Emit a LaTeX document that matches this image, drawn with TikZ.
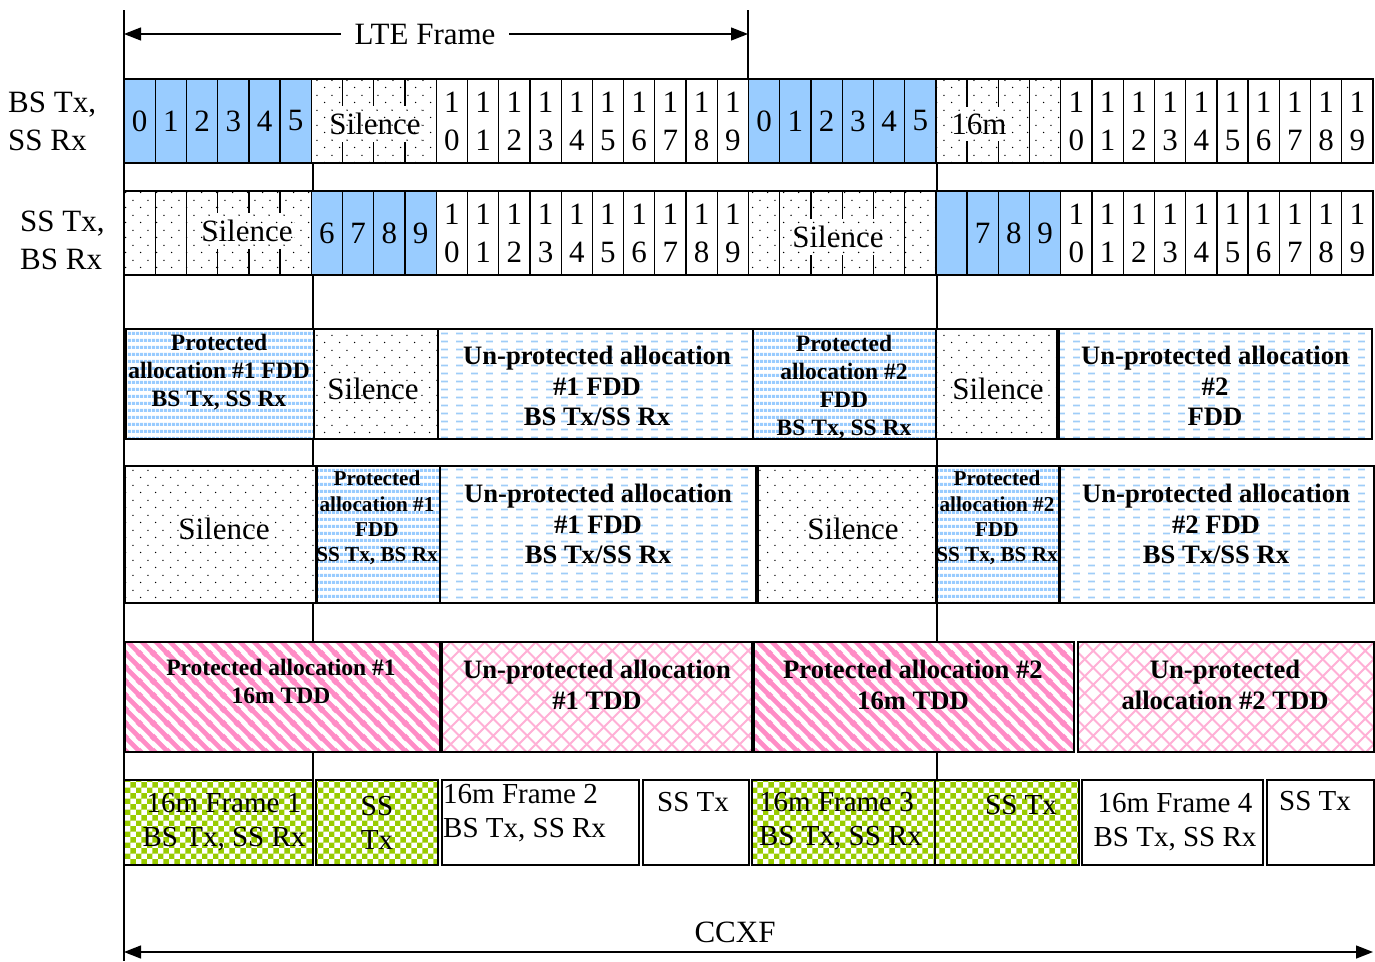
\documentclass[tikz,border=0pt]{standalone}
\usepackage{fontspec}
\setmainfont{Liberation Serif}
\usetikzlibrary{patterns,arrows.meta}

\definecolor{lblue}{HTML}{99CCFF}
\definecolor{dblue}{HTML}{9FCDF8}
\definecolor{pinkA}{HTML}{FF8CC6}
\definecolor{pinkB}{HTML}{FFB0D6}
\definecolor{greenA}{HTML}{99CC00}

\pgfdeclarepatternformonly{mydots}{\pgfqpoint{0pt}{0pt}}{\pgfqpoint{15.3pt}{15pt}}{\pgfqpoint{15.3pt}{15pt}}{%
  \pgfpathcircle{\pgfqpoint{3.8pt}{3.75pt}}{0.8pt}%
  \pgfpathcircle{\pgfqpoint{11.45pt}{11.25pt}}{0.8pt}%
  \pgfusepath{fill}}
\pgfdeclarepatternformonly{hstripes}{\pgfqpoint{0pt}{0pt}}{\pgfqpoint{4pt}{6.6pt}}{\pgfqpoint{4pt}{6.6pt}}{%
  \pgfpathrectangle{\pgfqpoint{0pt}{0pt}}{\pgfqpoint{4pt}{3.4pt}}\pgfusepath{fill}}
\pgfdeclarepatternformonly{hdashes}{\pgfqpoint{0pt}{0pt}}{\pgfqpoint{14.7pt}{8pt}}{\pgfqpoint{14.7pt}{8pt}}{%
  \pgfpathrectangle{\pgfqpoint{0pt}{3pt}}{\pgfqpoint{7pt}{2pt}}\pgfusepath{fill}}
\pgfdeclarepatternformonly{dstripes}{\pgfqpoint{0pt}{0pt}}{\pgfqpoint{14pt}{14pt}}{\pgfqpoint{14pt}{14pt}}{%
  \pgfsetlinewidth{5pt}%
  \pgfpathmoveto{\pgfqpoint{-2pt}{16pt}}\pgfpathlineto{\pgfqpoint{16pt}{-2pt}}%
  \pgfpathmoveto{\pgfqpoint{-2pt}{2pt}}\pgfpathlineto{\pgfqpoint{2pt}{-2pt}}%
  \pgfpathmoveto{\pgfqpoint{12pt}{16pt}}\pgfpathlineto{\pgfqpoint{16pt}{12pt}}%
  \pgfusepath{stroke}}
\pgfdeclarepatternformonly{xhatch}{\pgfqpoint{0pt}{0pt}}{\pgfqpoint{16.7pt}{16.7pt}}{\pgfqpoint{16.7pt}{16.7pt}}{%
  \pgfsetlinewidth{2pt}%
  \pgfpathmoveto{\pgfqpoint{-1pt}{-1pt}}\pgfpathlineto{\pgfqpoint{17.7pt}{17.7pt}}%
  \pgfpathmoveto{\pgfqpoint{-1pt}{17.7pt}}\pgfpathlineto{\pgfqpoint{17.7pt}{-1pt}}%
  \pgfusepath{stroke}}
\pgfdeclarepatternformonly{checker}{\pgfqpoint{0pt}{0pt}}{\pgfqpoint{11.4pt}{11.4pt}}{\pgfqpoint{11.4pt}{11.4pt}}{%
  \pgfpathrectangle{\pgfqpoint{0pt}{0pt}}{\pgfqpoint{5.7pt}{5.7pt}}%
  \pgfpathrectangle{\pgfqpoint{5.7pt}{5.7pt}}{\pgfqpoint{5.7pt}{5.7pt}}%
  \pgfusepath{fill}}

\tikzset{
  big/.style={font=\fontsize{31}{38}\selectfont},
  cell/.style={draw, line width=1.3pt, minimum width=31.225pt, minimum height=84pt,
    inner sep=0pt, align=center, big},
  bluecell/.style={cell, fill=lblue},
  whitecell/.style={cell, fill=white},
  dotcell/.style={cell, preaction={fill=white}, pattern=mydots, pattern color=black},
  siltext/.style={preaction={fill=white}, pattern=mydots, pattern color=black,
    inner xsep=1pt, inner ysep=7pt, big},
  box/.style={draw, line width=1.6pt, inner sep=0pt, anchor=north west},
  protbox/.style={box, preaction={fill=white}, pattern=hstripes, pattern color=lblue},
  unprotbox/.style={box, preaction={fill=white}, pattern=hdashes, pattern color=dblue},
  silbox/.style={box, preaction={fill=white}, pattern=mydots, pattern color=black},
  tddprot/.style={box, preaction={fill=white}, pattern=dstripes, pattern color=pinkA},
  tddun/.style={box, preaction={fill=white}, pattern=xhatch, pattern color=pinkB},
  greenbox/.style={box, preaction={fill=white}, pattern=checker, pattern color=greenA},
  whitebox/.style={box, fill=white},
  btxtA/.style={align=center, inner sep=0pt, font=\fontsize{23.5}{28}\selectfont\bfseries},
  btxtB/.style={align=center, inner sep=0pt, font=\fontsize{26.6}{30.5}\selectfont\bfseries},
  btxtC/.style={align=center, inner sep=0pt, font=\fontsize{21.2}{25.3}\selectfont\bfseries},
  rtxt/.style={inner sep=0pt, font=\fontsize{29}{34}\selectfont},
  guide/.style={line width=1.2pt},
  dimarrow/.style={line width=1.3pt, {Triangle[length=17pt,width=13pt]}-{Triangle[length=17pt,width=13pt]}},
}

\begin{document}
\begin{tikzpicture}[x=1pt, y=-1pt]
\useasboundingbox (0,0) rectangle (1375,961);

% guide lines
\coordinate (g0t) at (124,10);  \coordinate (g0b) at (124,961);
\coordinate (g1t) at (748,10);  \coordinate (g1b) at (748,80);
\coordinate (g2t) at (313,163); \coordinate (g2b) at (313,779);
\coordinate (g3t) at (937,163); \coordinate (g3b) at (937,779);
\draw[guide] (g0t) -- (g0b);
\draw[guide] (g1t) -- (g1b);
\draw[guide] (g2t) -- (g2b);
\draw[guide] (g3t) -- (g3b);

% LTE frame arrow
\coordinate (lteL) at (124,34); \coordinate (lteR) at (748,34);
\draw[dimarrow] (lteL) -- (lteR);
\node[fill=white, inner xsep=14pt, inner ysep=2pt, big] (lte) at (425,35) {LTE Frame};

% left labels
\node[anchor=west, align=left, inner sep=0pt, big] (lab1) at (8,121) {BS Tx,\\SS Rx};
\node[anchor=west, align=left, inner sep=0pt, big] (lab2) at (20,240) {SS Tx,\\BS Rx};

% ---------- row 1 ----------
\foreach \k in {0,...,5} {
  \node[bluecell] (r1-\k) at ({124+(\k+0.5)*31.225},121) {\k};
}
\foreach \k in {6,...,9} {
  \node[dotcell] (r1-\k) at ({124+(\k+0.5)*31.225},121) {};
}
\foreach \k in {10,...,19} {
  \pgfmathtruncatemacro\d{\k-10}
  \node[whitecell] (r1-\k) at ({124+(\k+0.5)*31.225},121) {1\\\d};
}
\foreach \k in {20,...,25} {
  \pgfmathtruncatemacro\d{\k-20}
  \node[bluecell] (r1-\k) at ({124+(\k+0.5)*31.225},121) {\d};
}
\foreach \k in {26,...,29} {
  \node[dotcell] (r1-\k) at ({124+(\k+0.5)*31.225},121) {};
}
\foreach \k in {30,...,39} {
  \pgfmathtruncatemacro\d{\k-30}
  \node[whitecell] (r1-\k) at ({124+(\k+0.5)*31.225},121) {1\\\d};
}
\node[siltext] (sil1a) at (375,124) {Silence};
\node[siltext] (sil1b) at (979,124) {16m};

% ---------- row 2 ----------
\foreach \k in {0,...,5} {
  \node[dotcell] (r2-\k) at ({124+(\k+0.5)*31.225},233) {};
}
\foreach \k in {6,...,9} {
  \node[bluecell] (r2-\k) at ({124+(\k+0.5)*31.225},233) {\k};
}
\foreach \k in {10,...,19} {
  \pgfmathtruncatemacro\d{\k-10}
  \node[whitecell] (r2-\k) at ({124+(\k+0.5)*31.225},233) {1\\\d};
}
\foreach \k in {20,...,25} {
  \node[dotcell] (r2-\k) at ({124+(\k+0.5)*31.225},233) {};
}
\node[bluecell] (r2-26) at ({124+26.5*31.225},233) {};
\foreach \k in {27,...,29} {
  \pgfmathtruncatemacro\d{\k-20}
  \node[bluecell] (r2-\k) at ({124+(\k+0.5)*31.225},233) {\d};
}
\foreach \k in {30,...,39} {
  \pgfmathtruncatemacro\d{\k-30}
  \node[whitecell] (r2-\k) at ({124+(\k+0.5)*31.225},233) {1\\\d};
}
\node[siltext] (sil2a) at (247,231) {Silence};
\node[siltext] (sil2b) at (838,237) {Silence};

% ---------- row 3 ----------
\node[protbox, minimum width=188pt, minimum height=110pt] (p3a) at (125,328) {};
\node[silbox, minimum width=124pt, minimum height=110pt] (s3a) at (313,328) {};
\node[unprotbox, minimum width=315pt, minimum height=110pt] (u3a) at (437,328) {};
\node[protbox, minimum width=183pt, minimum height=110pt] (p3b) at (752,328) {};
\node[silbox, minimum width=121pt, minimum height=110pt] (s3b) at (935,328) {};
\node[unprotbox, minimum width=313pt, minimum height=110pt] (u3b) at (1058,328) {};
\node[btxtA] (p3a-t) at (219,372) {Protected\\allocation \#1 FDD\\BS Tx, SS Rx};
\node[inner sep=0pt, big] (s3a-t) at (373,389) {Silence};
\node[btxtB] (u3a-t) at (597,386) {Un-protected allocation\\\#1 FDD\\BS Tx/SS Rx};
\node[btxtA] (p3b-t) at (844,387) {Protected\\allocation \#2\\FDD\\BS Tx, SS Rx};
\node[inner sep=0pt, big] (s3b-t) at (998,389) {Silence};
\node[btxtB] (u3b-t) at (1215,386) {Un-protected allocation\\\#2\\FDD};

% ---------- row 4 ----------
\node[silbox, minimum width=191pt, minimum height=137pt] (s4a) at (124,465) {};
\node[protbox, minimum width=123pt, minimum height=137pt] (p4a) at (316,465) {};
\node[unprotbox, minimum width=316pt, minimum height=137pt] (u4a) at (439,465) {};
\node[silbox, minimum width=178pt, minimum height=137pt] (s4b) at (757,465) {};
\node[protbox, minimum width=122pt, minimum height=137pt] (p4b) at (936,465) {};
\node[unprotbox, minimum width=314pt, minimum height=137pt] (u4b) at (1059,465) {};
\node[inner sep=0pt, big] (s4a-t) at (224,529) {Silence};
\node[btxtC] (p4a-t) at (377,518) {Protected\\allocation \#1\\FDD\\SS Tx, BS Rx};
\node[btxtB] (u4a-t) at (598,524) {Un-protected allocation\\\#1 FDD\\BS Tx/SS Rx};
\node[inner sep=0pt, big] (s4b-t) at (853,529) {Silence};
\node[btxtC] (p4b-t) at (997,518) {Protected\\allocation \#2\\FDD\\SS Tx, BS Rx};
\node[btxtB] (u4b-t) at (1216,524) {Un-protected allocation\\\#2 FDD\\BS Tx/SS Rx};

% ---------- row 5 ----------
\node[tddprot, minimum width=315pt, minimum height=110pt] (p5a) at (124,641) {};
\node[tddun, minimum width=310pt, minimum height=110pt] (u5a) at (441,641) {};
\node[tddprot, minimum width=320pt, minimum height=110pt] (p5b) at (753,641) {};
\node[tddun, minimum width=296pt, minimum height=110pt] (u5b) at (1077,641) {};
\node[btxtA] (p5a-t) at (281,681) {Protected allocation \#1\\16m TDD};
\node[btxtB] (u5a-t) at (597,685) {Un-protected allocation\\\#1 TDD};
\node[btxtB] (p5b-t) at (913,685) {Protected allocation \#2\\16m TDD};
\node[btxtB] (u5b-t) at (1225,685) {Un-protected\\allocation \#2 TDD};

% ---------- row 6 ----------
\node[greenbox, minimum width=189pt, minimum height=85pt] (f1) at (123,779) {};
\node[greenbox, minimum width=122pt, minimum height=85pt] (f1s) at (315,779) {};
\node[whitebox, minimum width=197pt, minimum height=85pt] (f2) at (441,779) {};
\node[whitebox, minimum width=106pt, minimum height=85pt] (f2s) at (642,779) {};
\node[greenbox, minimum width=183pt, minimum height=85pt] (f3) at (751,779) {};
\node[greenbox, minimum width=144pt, minimum height=85pt] (f3s) at (934,779) {};
\node[whitebox, minimum width=181pt, minimum height=85pt] (f4) at (1081,779) {};
\node[whitebox, minimum width=107pt, minimum height=85pt] (f4s) at (1266,779) {};
\node[rtxt, align=center] (f1-t) at (224,822) {16m Frame 1\\BS Tx, SS Rx};
\node[rtxt, align=center] (f1s-t) at (377,823) {SS\\Tx};
\node[rtxt, align=left, anchor=west] (f2-t) at (443,813) {16m Frame 2\\BS Tx, SS Rx};
\node[rtxt] (f2s-t) at (693,802) {SS Tx};
\node[rtxt, align=left, anchor=west] (f3-t) at (759,821) {16m Frame 3\\BS Tx, SS Rx};
\node[rtxt] (f3s-t) at (1021,805) {SS Tx};
\node[rtxt, align=center] (f4-t) at (1175,822) {16m Frame 4\\BS Tx, SS Rx};
\node[rtxt] (f4s-t) at (1315,801) {SS Tx};

% CCXF arrow
\coordinate (ccL) at (124,952); \coordinate (ccR) at (1373,952);
\draw[dimarrow] (ccL) -- (ccR);
\node[inner sep=0pt, big] (ccxf) at (735,932) {CCXF};
\end{tikzpicture}
\end{document}
